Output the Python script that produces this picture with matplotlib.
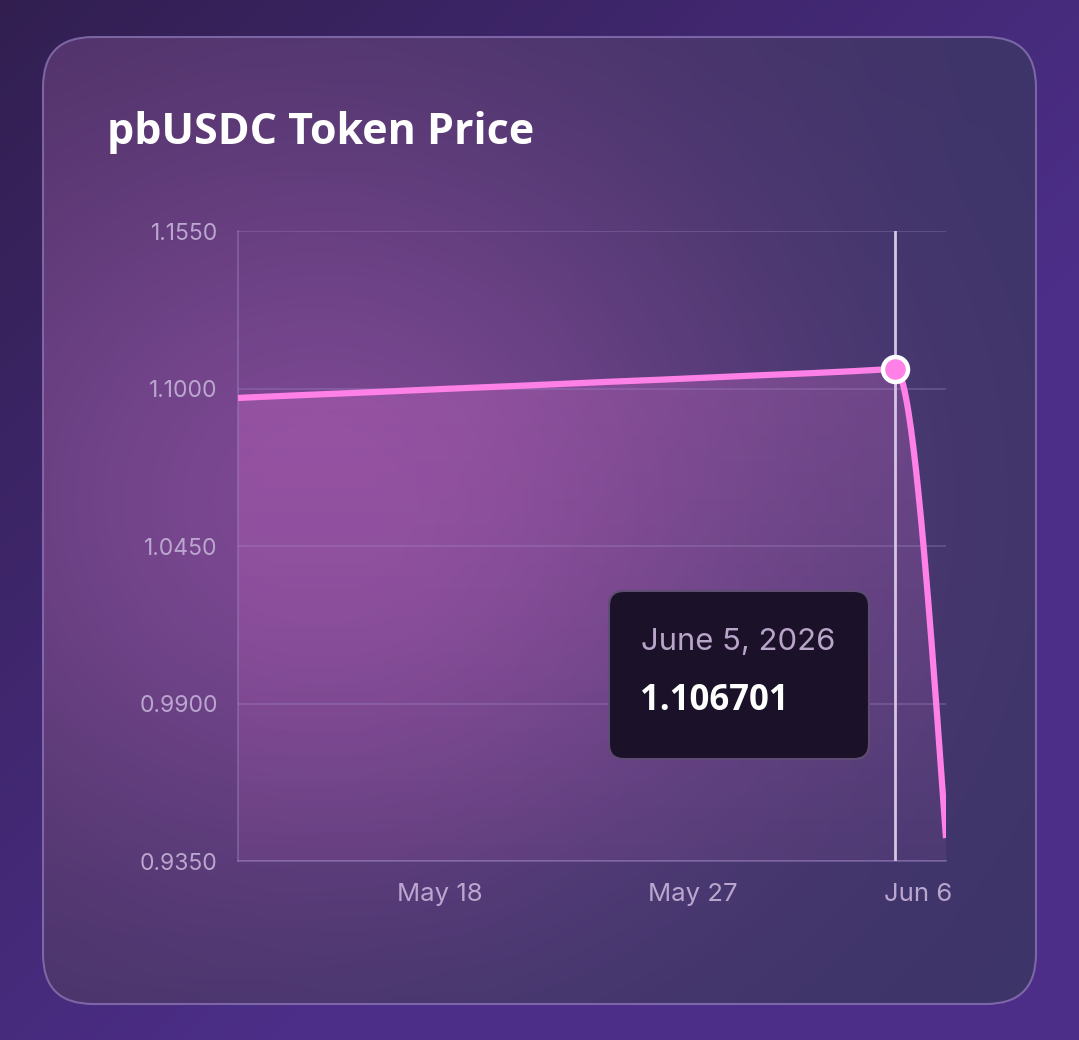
import matplotlib.pyplot as plt
import numpy as np
from matplotlib.patches import FancyBboxPatch
from matplotlib.transforms import ScaledTranslation
import matplotlib.colors as mcolors

# data (evenly spaced points on a category axis)
dates = ["May 10", "May 12", "May 14", "May 16", "May 18", "May 20", "May 22",
         "May 23", "May 25", "May 27", "May 29", "May 31", "Jun 2", "Jun 5", "Jun 6"]
prices = [1.0967, 1.0975, 1.0982, 1.0990, 1.0998, 1.1005, 1.1013,
          1.1021, 1.1028, 1.1036, 1.1044, 1.1051, 1.1059, 1.106701, 0.9430]
yticks = [0.9350, 0.9900, 1.0450, 1.1000, 1.1550]
xtick_labels = ["May 18", "May 27", "Jun 6"]
hover_idx = 13
hover_label = "June 5, 2026"

W, H = 1079, 1040
PINK = "#ff80e6"
TICK_COL = "#bba6cf"
GRID_COL = "#a48ccb"


def hexrgb(h):
    return np.array(mcolors.to_rgb(h))


def monotone_x(x, y, n=40):
    # d3 monotoneX style curve
    x = np.asarray(x, float)
    y = np.asarray(y, float)
    h = np.diff(x)
    s = np.diff(y) / h
    t = np.zeros(len(x))
    for i in range(1, len(x) - 1):
        s0, s1 = s[i - 1], s[i]
        if s0 * s1 <= 0:
            t[i] = 0
        else:
            p = (s0 * h[i] + s1 * h[i - 1]) / (h[i - 1] + h[i])
            t[i] = (np.sign(s0) + np.sign(s1)) * min(abs(s0), abs(s1), 0.5 * abs(p))
    t[0] = (3 * s[0] - t[1]) / 2
    t[-1] = (3 * s[-1] - t[-2]) / 2
    xs, ys = [], []
    for i in range(len(x) - 1):
        u = np.linspace(0, 1, n)
        h00 = 2 * u**3 - 3 * u**2 + 1
        h10 = u**3 - 2 * u**2 + u
        h01 = -2 * u**3 + 3 * u**2
        h11 = u**3 - u**2
        xs.append(x[i] + u * h[i])
        ys.append(h00 * y[i] + h10 * h[i] * t[i] + h01 * y[i + 1] + h11 * h[i] * t[i + 1])
    return np.concatenate(xs), np.concatenate(ys)


fig = plt.figure(figsize=(W / 100, H / 100), dpi=100)

# ---- background ----
bg = fig.add_axes([0, 0, 1, 1])
bg.set_xlim(0, W)
bg.set_ylim(H, 0)
bg.axis("off")

yy, xx = np.mgrid[0:H, 0:W]
tt = np.clip((xx / W + yy / H) * 0.8, 0, 1)[..., None]
outer = hexrgb("#321f50") * (1 - tt) + hexrgb("#4c2e88") * tt
bg.imshow(outer, extent=(0, W, H, 0), aspect="auto", zorder=0)

hx = np.clip((xx - 43) / 993.0 + (yy - 37) / 1900.0, 0, 1)[..., None]
base = hexrgb("#4a2f62") * (1 - hx) + hexrgb("#3c3468") * hx
glow = np.exp(-(((xx - 320) / 320.0) ** 2 / 2 + ((yy - 500) / 290.0) ** 2 / 2))[..., None]
inner = base * (1 - glow) + hexrgb("#7c4892") * glow
card = FancyBboxPatch((43, 37), 993, 967, boxstyle="round,pad=0,rounding_size=50",
                      facecolor="none", edgecolor="#8a74b4", lw=1.5, alpha=0.8, zorder=2)
bg.add_patch(card)
im = bg.imshow(inner, extent=(0, W, H, 0), aspect="auto", zorder=1)
im.set_clip_path(card)

# ---- chart ----
ax = fig.add_axes([238 / W, 1 - 861 / H, 708 / W, 630 / H])
ax.patch.set_alpha(0)
xi = np.arange(len(prices))
cx, cy = monotone_x(xi, prices)

ax.set_xlim(0, len(prices) - 1)
ax.set_ylim(yticks[0], yticks[-1])

# gradient fill under the line
ymin, ymax = yticks[0], max(prices)
grad = np.zeros((200, 2, 4))
grad[..., :3] = hexrgb(PINK)
grad[..., 3] = np.linspace(0.07, 0.22, 200)[:, None]
poly = ax.fill_between(cx, cy, ymin, facecolor="none", edgecolor="none")
gim = ax.imshow(grad, extent=(0, len(prices) - 1, ymin, ymax), origin="lower",
                aspect="auto", zorder=1)
gim.set_clip_path(poly.get_paths()[0], transform=ax.transData)

ax.set_yticks(yticks)
ax.set_yticklabels([f"{v:.4f}" for v in yticks])
ax.set_xticks([dates.index(d) for d in xtick_labels])
ax.set_xticklabels(xtick_labels)
ax.tick_params(length=0, colors=TICK_COL)
ax.tick_params(axis="y", pad=14.5, labelsize=16.5)
ax.tick_params(axis="x", pad=16, labelsize=18.5)
for lab in ax.get_yticklabels() + ax.get_xticklabels():
    lab.set_fontfamily("Inter")
last = ax.get_xticklabels()[-1]
last.set_horizontalalignment("right")
last.set_transform(last.get_transform() + ScaledTranslation(0.06, 0, fig.dpi_scale_trans))

ax.grid(axis="y", color=GRID_COL, alpha=0.35, lw=1.2)
for side in ["top", "right"]:
    ax.spines[side].set_visible(False)
for side in ["left", "bottom"]:
    ax.spines[side].set_color(GRID_COL)
    ax.spines[side].set_alpha(0.45)
    ax.spines[side].set_linewidth(1.2)

ax.axvline(hover_idx, color="#d6c6e6", lw=2, zorder=3)
ax.plot(cx, cy, color=PINK, lw=4.5, solid_capstyle="butt", zorder=4)
ax.plot(hover_idx, prices[hover_idx], "o", ms=18, mfc=PINK, mec="white", mew=3.2, zorder=5)

# ---- overlay: title and tooltip ----
top = fig.add_axes([0, 0, 1, 1], zorder=5)
top.set_xlim(0, W)
top.set_ylim(H, 0)
top.axis("off")
top.patch.set_alpha(0)

top.text(107, 132, "pbUSDC Token Price", color="white", fontsize=31, fontweight="bold",
         family="Open Sans", va="center", ha="left")

tip = FancyBboxPatch((609, 591), 260, 168, boxstyle="round,pad=0,rounding_size=15",
                     facecolor="#1b1229", edgecolor="#5f4c72", lw=1.5)
top.add_patch(tip)
top.text(641, 642, hover_label, color="#b9a4ca", fontsize=22.3, family="Inter",
         va="center", ha="left")
top.text(640, 701, f"{prices[hover_idx]:.6f}", color="white", fontsize=25,
         fontweight="bold", family="Open Sans", va="center", ha="left")

fig.savefig("out.png", dpi=100)
